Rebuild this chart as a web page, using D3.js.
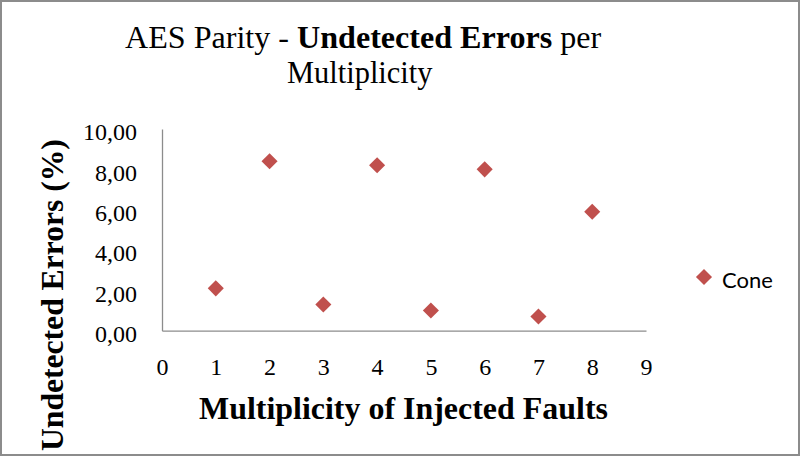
<!DOCTYPE html>
<html>
<head>
<meta charset="utf-8">
<script src="https://cdn.jsdelivr.net/npm/d3@7"></script>
<style>
  body { margin: 0; background: #fff; }
  svg { display: block; }
  .serif { font-family: "Liberation Serif", "Times New Roman", serif; fill: #000; }
</style>
</head>
<body>
<div id="chart"></div>
<script>
let W = 801, H = 457;

// data
let multiplicity = [1, 2, 3, 4, 5, 6, 7, 8];
let undetected = [2.1, 8.4, 1.3, 8.2, 1.0, 8.0, 0.7, 5.9];
let xTickValues = [0, 1, 2, 3, 4, 5, 6, 7, 8, 9];
let yTickValues = [0, 2, 4, 6, 8, 10];
let seriesName = "Cone";

let plot = {left: 162, right: 646, top: 129, bottom: 330.7};
let red = "#c0504d";

let svg = d3.select("#chart").append("svg")
    .attr("width", W)
    .attr("height", H);

svg.append("rect")
    .attr("width", W).attr("height", H)
    .attr("fill", "#fff");

let x = d3.scaleLinear().domain([0, 9]).range([plot.left, plot.right]);
let y = d3.scaleLinear().domain([0, 10]).range([plot.bottom, plot.top]);

// squeeze a text element horizontally so it fills [x0, x1]
function fitWidth(sel, x0, x1) {
    let node = sel.node();
    let bb = node.getBBox();
    let sx = (x1 - x0) / bb.width;
    sel.attr("transform", `translate(${x0},0) scale(${sx},1) translate(${-bb.x},0)`);
}

// title
let t1 = svg.append("text")
    .attr("class", "serif")
    .attr("y", 48)
    .style("font-size", "31px");
t1.append("tspan").text("AES Parity - ");
t1.append("tspan").style("font-weight", "bold").text("Undetected Errors");
t1.append("tspan").text("  per");
fitWidth(t1, 125, 602);

let t2 = svg.append("text")
    .attr("class", "serif")
    .attr("y", 83)
    .style("font-size", "31px")
    .text("Multiplicity");
fitWidth(t2, 287, 433);

// axes
let yAxis = svg.append("g")
    .attr("transform", `translate(${plot.left},0)`)
    .call(d3.axisLeft(y)
        .tickValues(yTickValues)
        .tickSize(0)
        .tickPadding(25)
        .tickFormat(d => d3.format(".2f")(d).replace(".", ",")));

let xAxis = svg.append("g")
    .attr("transform", `translate(0,${plot.bottom})`)
    .call(d3.axisBottom(x)
        .tickValues(xTickValues)
        .tickSize(0)
        .tickPadding(27)
        .tickFormat(d3.format("d")));

svg.selectAll(".domain")
    .attr("stroke", "#8c8c8c")
    .attr("stroke-width", 1.3);
svg.selectAll(".tick text")
    .attr("class", "serif")
    .style("font-size", "24px");
yAxis.selectAll(".tick text").attr("dy", "0.45em");

// axis titles
let xt = svg.append("text")
    .attr("class", "serif")
    .attr("y", 419)
    .style("font-size", "32px")
    .style("font-weight", "bold")
    .text("Multiplicity  of Injected  Faults");
fitWidth(xt, 199, 608);

let ytG = svg.append("g")
    .attr("transform", "translate(63,0) rotate(-90)");
let yt = ytG.append("text")
    .attr("class", "serif")
    .attr("y", 0)
    .style("font-size", "32px")
    .style("font-weight", "bold")
    .text("Undetected Errors  (%)");
fitWidth(yt, -451, -139);

// points
let diamond = d3.symbol().type(d3.symbolDiamond2).size(165);
svg.append("g")
    .selectAll("path")
    .data(multiplicity)
    .join("path")
    .attr("d", diamond)
    .attr("transform", (d, i) => `translate(${x(d)},${y(undetected[i])})`)
    .attr("fill", red);

// legend
let legend = svg.append("g").attr("transform", "translate(704,277)");
legend.append("path")
    .attr("d", diamond)
    .attr("fill", red);
legend.append("text")
    .attr("x", 18)
    .attr("y", 11)
    .style("font-family", "Lato, 'Open Sans', sans-serif")
    .style("font-size", "22px")
    .text(seriesName);

// outer frame
svg.append("rect")
    .attr("x", 1).attr("y", 1)
    .attr("width", W - 3).attr("height", H - 3)
    .attr("fill", "none")
    .attr("stroke", "#8c8c8c")
    .attr("stroke-width", 2);
</script>
</body>
</html>
